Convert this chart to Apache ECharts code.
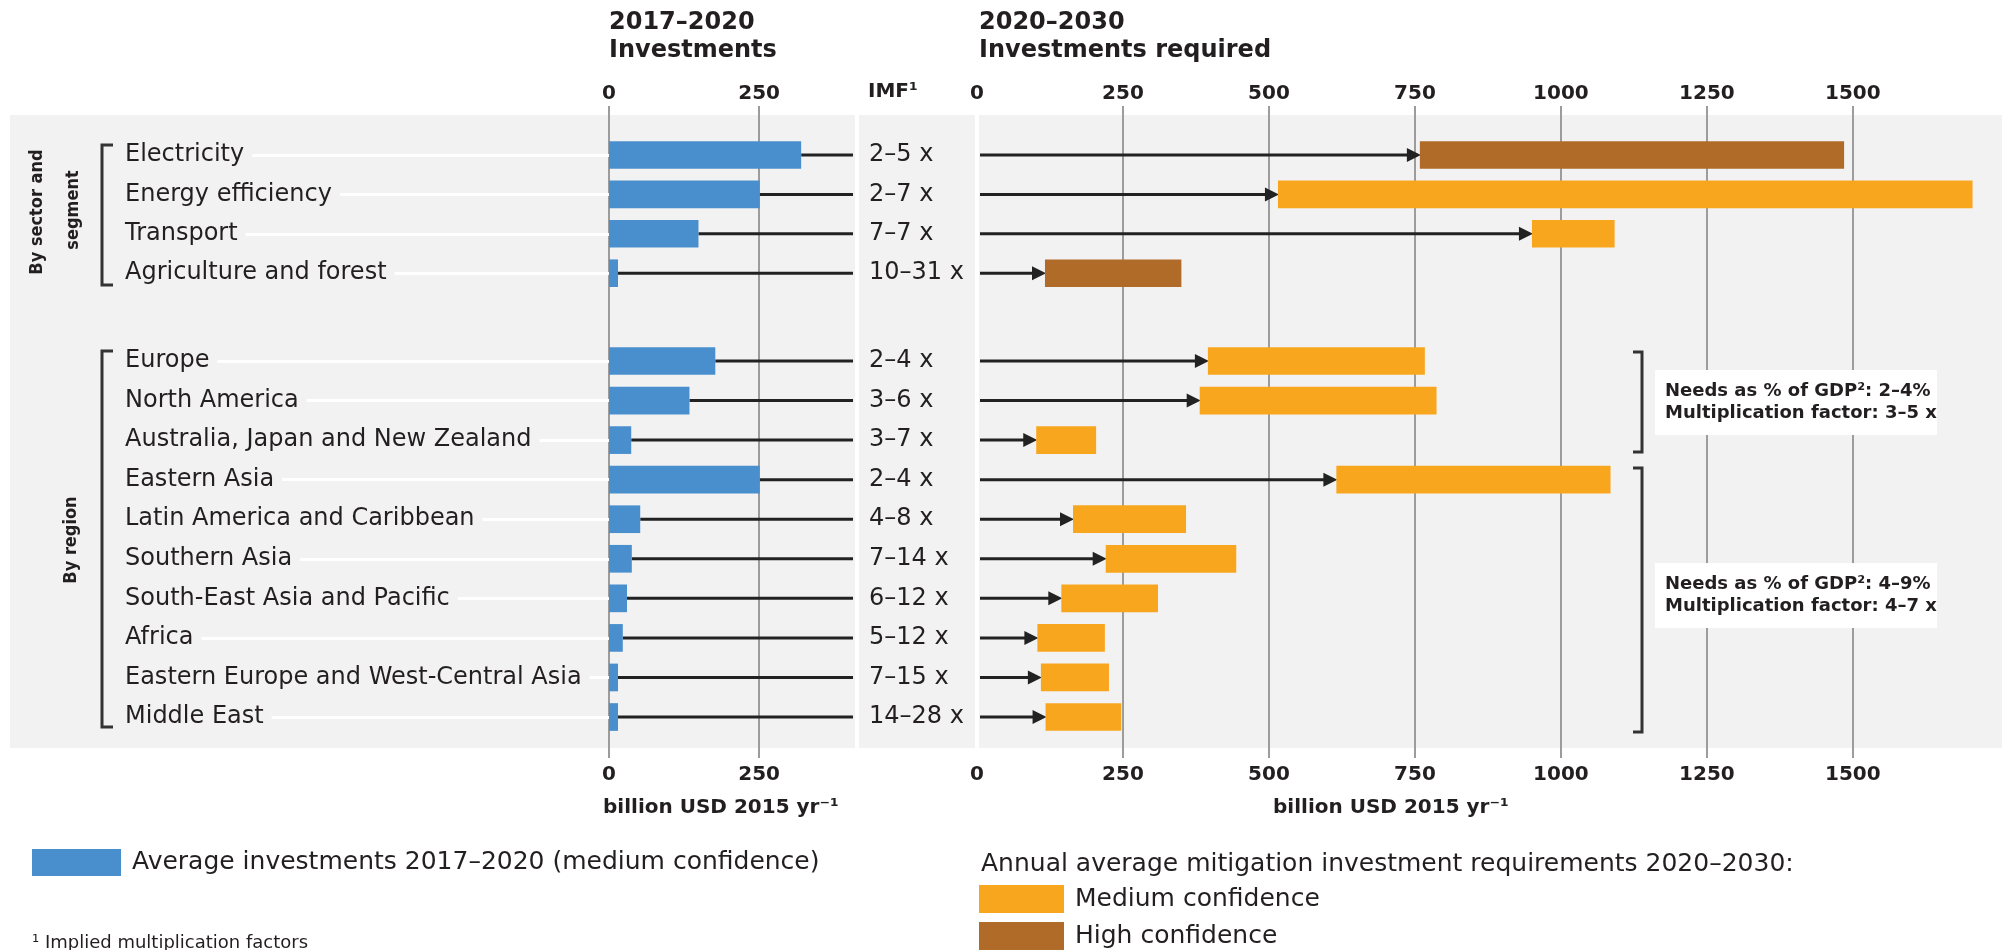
<!DOCTYPE html>
<html>
<head>
<meta charset="utf-8">
<title>Mitigation investment flows</title>
<script src="https://cdn.jsdelivr.net/npm/echarts@6/dist/echarts.min.js"></script>
<style>
html, body { margin: 0; padding: 0; background: #fff; }
#chart { width: 2011px; height: 950px; }
</style>
</head>
<body>
<div id="chart"></div>
<script>
// rows
const sectors = ['Electricity', 'Energy efficiency', 'Transport', 'Agriculture and forest'];
const regions = ['Europe', 'North America', 'Australia, Japan and New Zealand', 'Eastern Asia',
  'Latin America and Caribbean', 'Southern Asia', 'South-East Asia and Pacific', 'Africa',
  'Eastern Europe and West-Central Asia', 'Middle East'];

// 2017-2020 average investments (billion USD 2015 / yr)
const sectorInvest = [320, 251, 149, 15];
const regionInvest = [177, 134, 37, 251, 52, 38, 30, 23, 15, 15];

// 2020-2030 investment requirements, low / high
const sectorNeedLow = [755, 512, 947, 113];
const sectorNeedHigh = [1485, 1705, 1092, 350];
const regionNeedLow = [392, 378, 98, 612, 161, 217, 141, 100, 106, 114];
const regionNeedHigh = [767, 787, 204, 1085, 358, 444, 310, 219, 226, 247];
const sectorConfidence = ['high', 'medium', 'medium', 'high'];
const regionConfidence = ['medium', 'medium', 'medium', 'medium', 'medium',
  'medium', 'medium', 'medium', 'medium', 'medium'];

// implied multiplication factors
const sectorImf = ['2–5 x', '2–7 x', '7–7 x', '10–31 x'];
const regionImf = ['2–4 x', '3–6 x', '3–7 x', '2–4 x', '4–8 x', '7–14 x', '6–12 x', '5–12 x', '7–15 x', '14–28 x'];

// tick labels
const leftTicks = [0, 250];
const rightTicks = [0, 250, 500, 750, 1000, 1250, 1500];

const BLUE = '#4a8fcd', ORANGE = '#f9a61f', BROWN = '#b06b29', INK = '#231f20';
const FONT = 'DejaVu Sans';
const NARROW = '"DejaVu Sans Condensed", "DejaVu Sans"';
const LEFT_MAX = 413, RIGHT_MAX = 1740;
const investName = 'Average investments 2017–2020 (medium confidence)';

const chart = echarts.init(document.getElementById('chart'));

// grid geometry
const leftX = 609, leftW = 248, rightX = 977, rightW = 1016;
const secTop = 135.3, secH = 157.6, regTop = 341.2, regH = 395.6;

function tickAxis(grid, pos, max, ticks, split) {
  return {
    type: 'value', gridIndex: grid, position: pos, min: 0, max: max, interval: 250,
    axisLine: { show: false, onZero: false }, axisTick: { show: false },
    axisLabel: {
      margin: pos === 'top' ? 2 : 7, fontSize: 20, fontWeight: 'bold', color: INK, fontFamily: FONT,
      formatter: v => ticks.includes(v) ? String(v) : ''
    },
    splitLine: split ? { show: true, showMinLine: split.min, showMaxLine: false,
      lineStyle: { color: '#9c9c9c', width: 2 } } : { show: false }
  };
}
function hiddenX(grid, max) {
  return { type: 'value', gridIndex: grid, min: 0, max: max, show: false, splitLine: { show: false } };
}
function whiteLine(grid, pos) {
  return {
    type: 'value', gridIndex: grid, position: pos, min: 0, max: 1,
    axisLine: { show: true, onZero: false, lineStyle: { color: '#ffffff', width: 4 } },
    axisTick: { show: false }, axisLabel: { show: false }, splitLine: { show: false }
  };
}
function labelAxis(grid, cats) {
  return {
    type: 'category', gridIndex: grid, position: 'left', inverse: true, data: cats,
    axisLine: { show: false, onZero: false },
    axisTick: { show: true, alignWithLabel: true, length: leftX - 125,
      lineStyle: { color: '#ffffff', width: 3 } },
    axisLabel: { margin: leftX - 125, align: 'left', fontSize: 24, color: INK, fontFamily: FONT,
      backgroundColor: '#f2f2f2', padding: [2, 8, 2, 0] },
    splitLine: { show: false }
  };
}
function imfAxis(grid, cats, imf) {
  return {
    type: 'category', gridIndex: grid, position: 'right', inverse: true, data: cats,
    axisLine: { show: false, onZero: false }, axisTick: { show: false },
    axisLabel: { margin: 12, fontSize: 24, color: INK, fontFamily: FONT,
      formatter: (v, i) => imf[i] },
    splitLine: { show: false }
  };
}
function hiddenY(grid, cats) {
  return { type: 'category', gridIndex: grid, inverse: true, data: cats, show: false };
}

// black line from bar end to the IMF column
function renderWhisker(params, api) {
  const p = api.coord([api.value(0), api.value(1)]);
  const cs = params.coordSys;
  return { type: 'line', shape: { x1: p[0], y1: p[1], x2: cs.x + cs.width - 4, y2: p[1] },
    style: { stroke: '#222', lineWidth: 3 } };
}
// arrow from zero to the low end, then the low-high range bar
function rangeRenderer(color) {
  return function (params, api) {
    const y = api.value(2);
    const lo = api.coord([api.value(0), y]);
    const hi = api.coord([api.value(1), y]);
    const h = api.size([0, 1])[1] * 0.7;
    const cs = params.coordSys;
    return { type: 'group', children: [
      { type: 'line', shape: { x1: cs.x + 3, y1: lo[1], x2: lo[0] - 6, y2: lo[1] },
        style: { stroke: '#222', lineWidth: 3 } },
      { type: 'polygon', shape: { points: [[lo[0] - 11, lo[1] - 7], [lo[0] + 3, lo[1]], [lo[0] - 11, lo[1] + 7]] },
        style: { fill: '#222' } },
      { type: 'rect', shape: { x: lo[0] + 2, y: lo[1] - h / 2, width: hi[0] - lo[0] - 2, height: h },
        style: { fill: color } }
    ] };
  };
}
function rangeData(low, high, conf, which) {
  const out = [];
  low.forEach((v, i) => { if (conf[i] === which) out.push([v, high[i], i]); });
  return out;
}
function rangeSeries(name, color, xi, yi, low, high, conf, which) {
  return { type: 'custom', name: name, xAxisIndex: xi, yAxisIndex: yi, z: 3,
    itemStyle: { color: color }, encode: { x: [0, 1], y: 2 },
    renderItem: rangeRenderer(color), data: rangeData(low, high, conf, which) };
}

function txt(x, y, text, size, weight, more) {
  return {
    type: 'text', x: x, y: y, z: 50, rotation: (more && more.rotation) || 0,
    style: Object.assign({ text: text, fontSize: size, fontWeight: weight || 'normal', fontFamily: FONT,
      fill: INK, verticalAlign: 'middle' }, (more && more.style) || {})
  };
}
const sideLabel = (x, y, text) => txt(x, y, text, 18, 'bold',
  { rotation: Math.PI / 2, style: { align: 'center', fontFamily: NARROW } });
const note = (y, text) => txt(1665, y, text, 18, 'bold', { style: { lineHeight: 22 } });
const bracket = (pts) => ({ type: 'polyline', z: 50, shape: { points: pts },
  style: { stroke: '#333', lineWidth: 3, fill: null } });

const option = {
  animation: false,
  textStyle: { fontFamily: FONT },
  title: [
    { text: '2017–2020\nInvestments', left: leftX, top: 9, padding: 0,
      textStyle: { fontSize: 24, fontWeight: 'bold', lineHeight: 28, color: INK, fontFamily: FONT } },
    { text: '2020–2030\nInvestments required', left: 979, top: 9, padding: 0,
      textStyle: { fontSize: 24, fontWeight: 'bold', lineHeight: 28, color: INK, fontFamily: FONT } }
  ],
  legend: [
    { data: [investName], left: 32, top: 849, padding: 0, icon: 'rect', itemWidth: 89, itemHeight: 27,
      textStyle: { fontSize: 25, color: INK, fontFamily: FONT, padding: [0, 0, 0, 6] } },
    { data: ['Medium confidence', 'High confidence'], orient: 'vertical', left: 979, top: 885, padding: 0,
      icon: 'rect', itemWidth: 85, itemHeight: 28, itemGap: 9,
      textStyle: { fontSize: 25, color: INK, fontFamily: FONT, padding: [0, 0, 0, 6] } }
  ],
  grid: [
    { left: leftX, width: leftW, top: 106, height: 652 },
    { left: rightX, width: rightW, top: 106, height: 652 },
    { left: leftX, width: leftW, top: secTop, height: secH },
    { left: rightX, width: rightW, top: secTop, height: secH },
    { left: leftX, width: leftW, top: regTop, height: regH },
    { left: rightX, width: rightW, top: regTop, height: regH }
  ],
  xAxis: [
    tickAxis(0, 'top', LEFT_MAX, leftTicks, { min: true }),
    tickAxis(0, 'bottom', LEFT_MAX, leftTicks, null),
    tickAxis(1, 'top', RIGHT_MAX, rightTicks, { min: false }),
    tickAxis(1, 'bottom', RIGHT_MAX, rightTicks, null),
    hiddenX(2, LEFT_MAX), hiddenX(3, RIGHT_MAX), hiddenX(4, LEFT_MAX), hiddenX(5, RIGHT_MAX)
  ],
  yAxis: [
    whiteLine(0, 'right'), whiteLine(1, 'left'),
    labelAxis(2, sectors), imfAxis(2, sectors, sectorImf), hiddenY(3, sectors),
    labelAxis(4, regions), imfAxis(4, regions, regionImf), hiddenY(5, regions)
  ],
  series: [
    { type: 'custom', xAxisIndex: 4, yAxisIndex: 2, z: 2, renderItem: renderWhisker,
      data: sectorInvest.map((v, i) => [v, i]) },
    { type: 'custom', xAxisIndex: 6, yAxisIndex: 5, z: 2, renderItem: renderWhisker,
      data: regionInvest.map((v, i) => [v, i]) },
    { type: 'bar', name: investName, xAxisIndex: 4, yAxisIndex: 2, barWidth: '70%', z: 3,
      itemStyle: { color: BLUE }, data: sectorInvest },
    { type: 'bar', name: investName, xAxisIndex: 6, yAxisIndex: 5, barWidth: '70%', z: 3,
      itemStyle: { color: BLUE }, data: regionInvest },
    rangeSeries('Medium confidence', ORANGE, 5, 4, sectorNeedLow, sectorNeedHigh, sectorConfidence, 'medium'),
    rangeSeries('High confidence', BROWN, 5, 4, sectorNeedLow, sectorNeedHigh, sectorConfidence, 'high'),
    rangeSeries('Medium confidence', ORANGE, 7, 7, regionNeedLow, regionNeedHigh, regionConfidence, 'medium'),
    rangeSeries('High confidence', BROWN, 7, 7, regionNeedLow, regionNeedHigh, regionConfidence, 'high')
  ],
  graphic: { elements: [
    { type: 'rect', z: -100, shape: { x: 10, y: 115, width: 1992, height: 633 }, style: { fill: '#f2f2f2' } },
    txt(868, 92, 'IMF¹', 20, 'bold'),
    txt(603, 808, 'billion USD 2015 yr⁻¹', 20, 'bold'),
    txt(1273, 808, 'billion USD 2015 yr⁻¹', 20, 'bold'),
    sideLabel(37, 212, 'By sector and'),
    sideLabel(73, 210, 'segment'),
    sideLabel(71, 540, 'By region'),
    bracket([[113, 145], [102, 145], [102, 285], [113, 285]]),
    bracket([[113, 351], [102, 351], [102, 727], [113, 727]]),
    bracket([[1633, 352], [1642, 352], [1642, 452], [1633, 452]]),
    bracket([[1633, 468], [1642, 468], [1642, 732], [1633, 732]]),
    { type: 'rect', z: 40, shape: { x: 1655, y: 370, width: 282, height: 65 }, style: { fill: '#ffffff' } },
    { type: 'rect', z: 40, shape: { x: 1655, y: 563, width: 282, height: 65 }, style: { fill: '#ffffff' } },
    note(402, 'Needs as % of GDP²: 2–4%\nMultiplication factor: 3–5 x'),
    note(595, 'Needs as % of GDP²: 4–9%\nMultiplication factor: 4–7 x'),
    txt(981, 864, 'Annual average mitigation investment requirements 2020–2030:', 25),
    txt(32, 943, '¹ Implied multiplication factors', 18)
  ] }
};
chart.setOption(option);
</script>
</body>
</html>
